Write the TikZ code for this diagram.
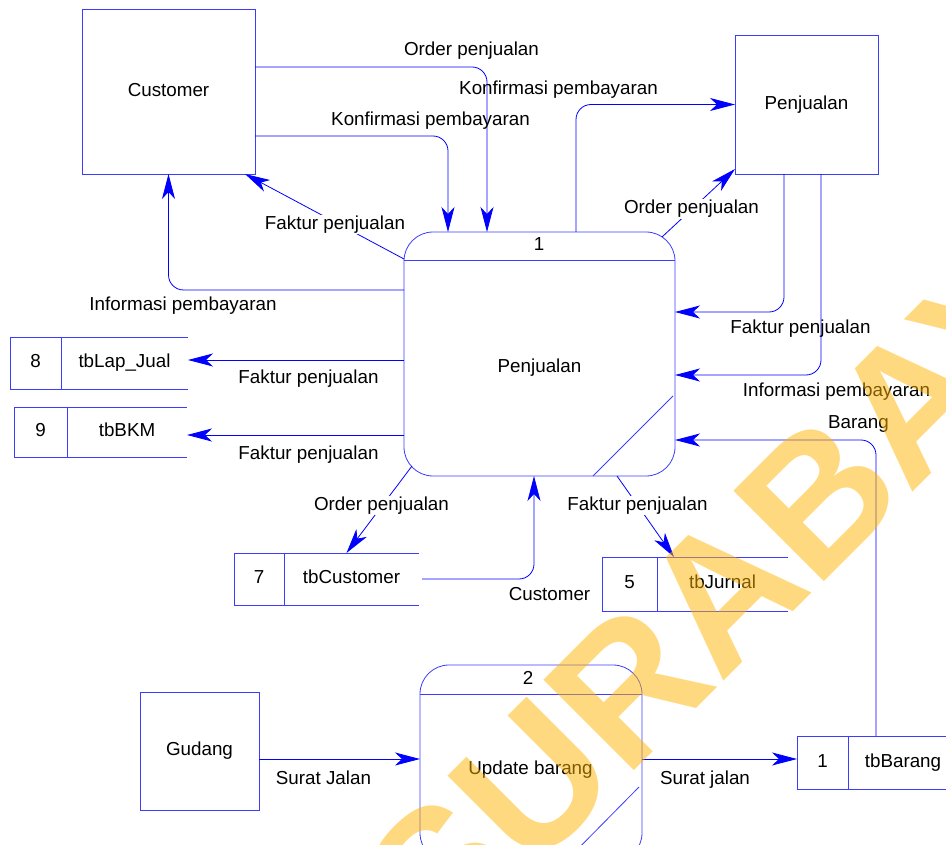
\documentclass[tikz,border=0pt]{standalone}
\usepackage{fontspec}
\setmainfont{Liberation Sans}
\newfontfamily\markfont{Liberation Sans}
\usetikzlibrary{arrows.meta}
\definecolor{dfdblue}{RGB}{0,0,255}
\definecolor{boxblue}{RGB}{60,60,255}
\definecolor{markyellow}{RGB}{255,180,0}

\begin{document}
\begin{tikzpicture}[x=1pt,y=-1pt,
  every node/.style={inner sep=0pt, outer sep=0pt,
    font=\fontsize{18.8}{22}\selectfont, text height=13.5pt, text depth=4pt},
  box/.style={draw=boxblue, line width=0.8pt},
  boxline/.style={draw=boxblue, line width=0.8pt},
  flow/.style={draw=dfdblue, line width=0.8pt, rounded corners=15pt,
    -{Stealth[length=25pt, width=13pt, inset=7pt]}},
  lbl/.style={anchor=base},
  lblcut/.style={anchor=base, fill=white, inner sep=1pt},
  process/.style={box, rounded corners=29pt}
]
\useasboundingbox (0,0) rectangle (946,845);
\clip (0,0) rectangle (946,845);

% external entities
\node[box, minimum width=173pt, minimum height=165pt] (cust) at (168.5,91.5) {Customer};
\node[box, minimum width=143pt, minimum height=139pt] (pent) at (806.5,104.5) {Penjualan};
\node[box, minimum width=119pt, minimum height=118pt] (gud) at (199.5,751) {Gudang};

% process 1
\node[process, minimum width=271pt, minimum height=244pt] (p1) at (539.5,354) {};
\draw[boxline] ([yshift=-28pt]p1.north west) -- ([yshift=-28pt]p1.north east);
\draw[boxline] ([xshift=-2pt,yshift=80pt]p1.south east) -- ([xshift=-82pt]p1.south east);
\node[lbl] (p1num) at (539,251) {1};
\node[lbl] (p1txt) at (539.5,372.7) {Penjualan};

% process 2
\node[process, minimum width=222pt, minimum height=197pt] (p2) at (531,763.5) {};
\draw[boxline] ([yshift=-29pt]p2.north west) -- ([yshift=-29pt]p2.north east);
\draw[boxline] ([xshift=-3pt,yshift=75pt]p2.south east) -- ([xshift=-77pt]p2.south east);
\node[lbl] (p2num) at (528,684) {2};
\node[lbl] (p2txt) at (530.5,774) {Update barang};

% data stores
\node[box, minimum width=51pt, minimum height=52pt] (n8) at (35.5,363) {8};
\node[minimum width=127pt, minimum height=52pt, anchor=west] (t8) at (n8.east) {tbLap\_Jual};
\draw[boxline] (t8.north west) -- (t8.north east) (t8.south west) -- (t8.south east);

\node[box, minimum width=53pt, minimum height=50pt] (n9) at (40.5,432) {9};
\node[minimum width=120pt, minimum height=50pt, anchor=west] (t9) at (n9.east) {tbBKM};
\draw[boxline] (t9.north west) -- (t9.north east) (t9.south west) -- (t9.south east);

\node[box, minimum width=50pt, minimum height=52pt] (n7) at (259,579) {7};
\node[minimum width=135pt, minimum height=52pt, anchor=west] (t7) at (n7.east) {tbCustomer};
\draw[boxline] (t7.north west) -- (t7.north east) (t7.south west) -- (t7.south east);

\node[box, minimum width=55pt, minimum height=54pt] (n5) at (629.5,584) {5};
\node[minimum width=131pt, minimum height=54pt, anchor=west] (t5) at (n5.east) {tbJurnal};
\draw[boxline] (t5.north west) -- (t5.north east) (t5.south west) -- (t5.south east);

\node[box, minimum width=51pt, minimum height=53pt] (n1) at (822.5,762.5) {1};
\node[minimum width=110pt, minimum height=53pt, anchor=west] (t1) at (n1.east) {tbBarang};
\draw[boxline] (t1.north west) -- (t1.north east) (t1.south west) -- (t1.south east);

% data flows
\draw[flow] ([yshift=-58pt]cust.north east) -| ([xshift=83pt]p1.north west);
\draw[flow] ([yshift=-127pt]cust.north east) -| ([xshift=44pt]p1.north west);
\draw[flow] ([xshift=172pt]p1.north west) |- (pent.west);
\draw[flow, rounded corners=0pt] ([xshift=-13pt,yshift=-5pt]p1.north east) -- ([yshift=5pt]pent.south west);
\draw[flow, rounded corners=0pt] ([yshift=-27pt]p1.north west) -- ([xshift=-10pt]cust.south east);
\draw[flow] ([yshift=-58pt]p1.north west) -| (cust.south);
\draw[flow] ([xshift=49pt]pent.south west) |- ([yshift=-80pt]p1.north east);
\draw[flow] ([xshift=86pt]pent.south west) |- ([yshift=-143pt]p1.north east);
\draw[flow] ([xshift=28pt]t1.north west) |- ([yshift=-208pt]p1.north east);
\coordinate (s8) at ([yshift=-128pt]p1.north west);
\draw[flow] (s8) -- (s8 -| t8.east);
\coordinate (s9) at ([yshift=-203pt]p1.north west);
\draw[flow] (s9) -- (s9 -| t9.east);
\draw[flow, rounded corners=0pt] ([xshift=8pt,yshift=10pt]p1.south west) -- ([xshift=-5pt]t7.north);
\draw[flow] ([xshift=3pt]t7.east) -| ([xshift=130pt]p1.south west);
\draw[flow, rounded corners=0pt] ([xshift=213pt]p1.south west) -- ([xshift=17pt]t5.north west);
\coordinate (s15) at ([yshift=-8pt]gud.east);
\draw[flow] (s15) -- (s15 -| p2.west);
\coordinate (s16) at ([yshift=4.5pt]p2.east);
\draw[flow] (s16) -- (s16 -| n1.west);

% flow labels
\node[lbl] (l1) at (471.5,56) {Order penjualan};
\node[lbl] (l2) at (430.5,126) {Konfirmasi pembayaran};
\node[lbl] (l3) at (558.5,94.3) {Konfirmasi pembayaran};
\node[lblcut] (l4) at (691.5,214) {Order penjualan};
\node[lblcut] (l5) at (335,229.3) {Faktur penjualan};
\node[lbl] (l6) at (183,311) {Informasi pembayaran};
\node[lbl] (l7) at (800.5,333.7) {Faktur penjualan};
\node[lbl] (l8) at (836.5,396) {Informasi pembayaran};
\node[lbl] (l9) at (858.5,428.7) {Barang};
\node[lbl] (l10) at (308.5,384) {Faktur penjualan};
\node[lbl] (l11) at (308.5,459) {Faktur penjualan};
\node[lblcut] (l12) at (381.5,510) {Order penjualan};
\node[lbl] (l13) at (549.5,600) {Customer};
\node[lblcut] (l14) at (637.5,510) {Faktur penjualan};
\node[lbl] (l15) at (323.5,784) {Surat Jalan};
\node[lbl] (l16) at (705,784) {Surat jalan};

% watermark
\node[font=\markfont\bfseries\fontsize{186}{186}\selectfont, text=markyellow, text opacity=0.5,
  rotate=45, text height=133pt, text depth=0pt] (mark) at (756,555) {SURABAYA};
\end{tikzpicture}
\end{document}
